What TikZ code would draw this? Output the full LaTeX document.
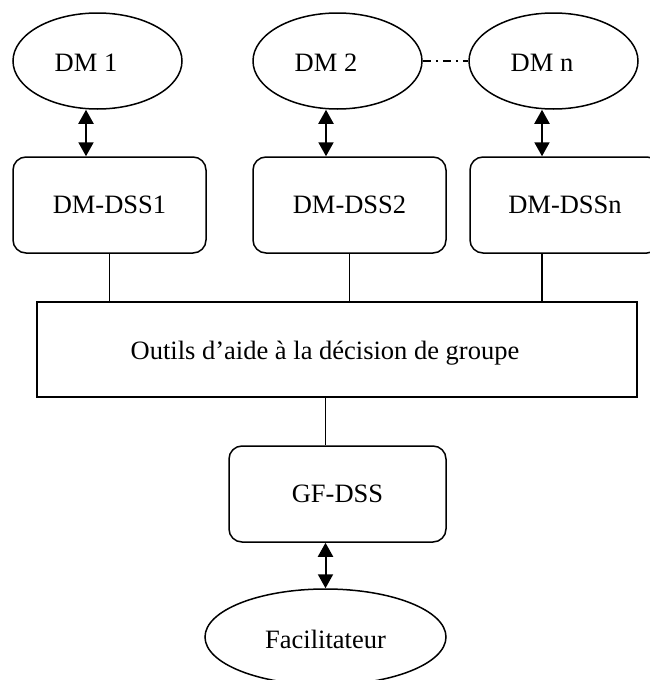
\documentclass[tikz,border=0pt]{standalone}
\usepackage{fontspec}
\setmainfont{Liberation Serif}
\usetikzlibrary{shapes.geometric,arrows.meta}
\begin{document}
\begin{tikzpicture}[x=1pt,y=-1pt,
  every node/.style={font=\fontsize{26.5}{31}\selectfont},
  oval/.style={draw,ellipse,line width=1.5pt,inner sep=0pt,minimum width=169pt,minimum height=96pt},
  rbox/.style={draw,rectangle,rounded corners=13pt,line width=1.5pt,inner sep=0pt,minimum height=96pt},
  conn/.style={line width=1.6pt},
  dbl/.style={line width=2pt,{Triangle[length=14pt,width=15pt]}-{Triangle[length=14pt,width=15pt]}},
  dashdot/.style={line width=1.5pt,dash pattern=on 8pt off 5pt on 2pt off 5pt}]
\useasboundingbox (0,0) rectangle (650,680);
\clip (0,0) rectangle (650,680);
% decision makers
\node[oval,label={[name=t1,xshift=-11.5pt,yshift=-2pt]center:DM 1}] (dm1) at (97.5,61) {};
\node[oval,label={[name=t2,xshift=-11.5pt,yshift=-2pt]center:DM 2}] (dm2) at (337.5,61) {};
\node[oval,label={[name=tn,xshift=-11.5pt,yshift=-2pt]center:DM n}] (dmn) at (553.5,61) {};
% DSS boxes
\node[rbox,minimum width=193pt] (dss1) at (109.5,205) {DM-DSS1};
\node[rbox,minimum width=193pt] (dss2) at (349.5,205) {DM-DSS2};
\node[rbox,minimum width=190pt] (dssn) at (565,205) {DM-DSSn};
% main box
\node[draw,rectangle,line width=1.5pt,inner sep=0pt,minimum width=600pt,minimum height=95pt,
  label={[name=tm,xshift=-12pt,yshift=-3.5pt]center:Outils d’aide à la décision de groupe}] (main) at (337,349.5) {};
% GF-DSS and facilitator
\node[rbox,minimum width=217pt] (gf) at (337.5,494) {GF-DSS};
\node[oval,minimum width=241pt,label={[name=tf,yshift=-2pt]center:Facilitateur}] (fac) at (325.5,637) {};
% connectors
\draw[dashdot] (dm2.east) -- (dmn.west);
\draw[dbl] (t1 |- dm1.south) -- (t1 |- dss1.north);
\draw[dbl] (t2 |- dm2.south) -- (t2 |- dss2.north);
\draw[dbl] (tn |- dmn.south) -- (tn |- dssn.north);
\draw[conn] (dss1.south) -- (dss1.south |- main.north);
\draw[conn] (dss2.south) -- (dss2.south |- main.north);
\draw[conn] (tn |- dssn.south) -- (tn |- main.north);
\draw[conn] (fac |- main.south) -- (fac |- gf.north);
\draw[dbl] (fac |- gf.south) -- (fac.north);
\end{tikzpicture}
\end{document}
